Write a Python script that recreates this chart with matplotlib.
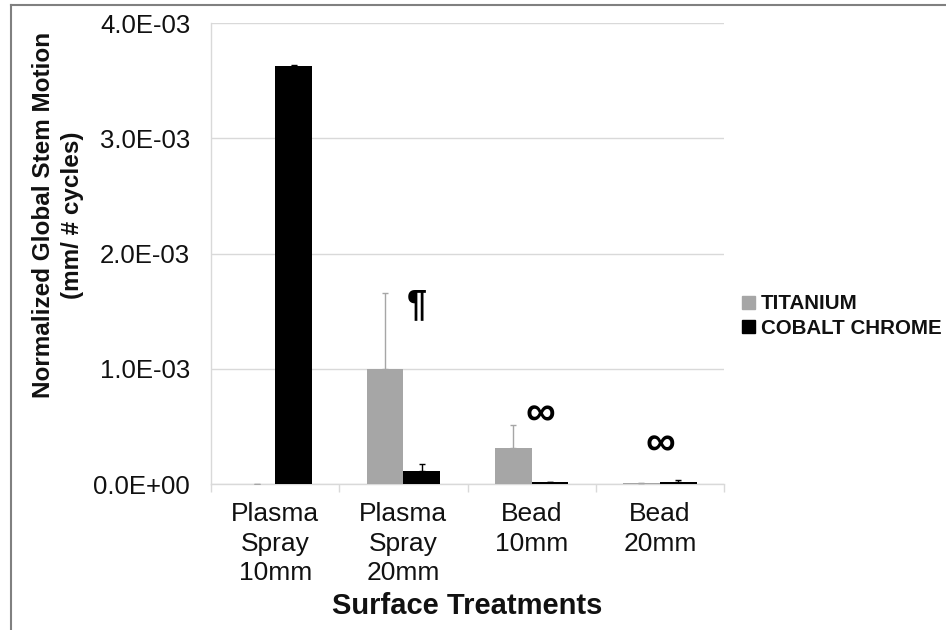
import matplotlib
matplotlib.use("Agg")
import matplotlib.pyplot as plt
from matplotlib.lines import Line2D
import numpy as np

plt.rcParams['font.family'] = ['Liberation Sans', 'DejaVu Sans']

# Data
categories = ["Plasma\nSpray\n10mm", "Plasma\nSpray\n20mm", "Bead\n10mm", "Bead\n20mm"]
series_names = ["TITANIUM", "COBALT CHROME"]
titanium = [0.0, 1.0e-3, 3.1e-4, 5e-6]
titanium_err = [0.0, 6.6e-4, 2.0e-4, 5e-6]
cobalt = [3.63e-3, 1.1e-4, 1.7e-5, 1.5e-5]
cobalt_err = [5e-6, 6.5e-5, 3e-6, 1.7e-5]
y_ticks = [0.0, 1.0e-3, 2.0e-3, 3.0e-3, 4.0e-3]
y_tick_labels = ["0.0E+00", "1.0E-03", "2.0E-03", "3.0E-03", "4.0E-03"]
# significance markers: (category index, symbol)
markers = [(1, "\u00b6"), (2, "\u221e"), (3, "\u221e")]

W, H = 946, 630
fig = plt.figure(figsize=(W / 100, H / 100), dpi=100)
ax = fig.add_axes([211 / W, 1 - 484 / H, (724 - 211) / W, (484 - 23) / H])

x = np.arange(len(categories))
bw = 37 / 129.0
ti_color = "#a6a6a6"
co_color = "#000000"
text_color = "#111111"

ax.bar(x - bw / 2, titanium, bw, color=ti_color, zorder=3)
ax.bar(x + bw / 2, cobalt, bw, color=co_color, zorder=3)
ax.errorbar(x - bw / 2, titanium, yerr=[np.zeros(len(x)), titanium_err],
            fmt="none", ecolor=ti_color, elinewidth=1, capsize=2, capthick=1, zorder=4)
ax.errorbar(x + bw / 2, cobalt, yerr=[np.zeros(len(x)), cobalt_err],
            fmt="none", ecolor=co_color, elinewidth=1, capsize=2, capthick=1, zorder=4)

# significance symbols
sym_offsets = {1: (bw / 2 - 0.04, 1.55e-3), 2: (0.07, 0.6e-3), 3: (0.0, 0.34e-3)}
for idx, sym in markers:
    dx, yy = sym_offsets[idx]
    fs = 26 if sym == "\u00b6" else 30
    ax.text(idx + dx, yy, sym, ha="center", va="center", fontsize=fs,
            fontweight="bold", color="black", zorder=5)

ax.set_xlim(-0.5, len(categories) - 0.5)
ax.set_ylim(0, 4.0e-3)
ax.set_yticks(y_ticks)
ax.set_yticklabels(y_tick_labels, fontsize=18.5, color=text_color)
ax.set_xticks(x)
ax.set_xticklabels(categories, fontsize=19, color=text_color, linespacing=1.3)
ax.tick_params(axis="x", length=0, pad=13)
ax.tick_params(axis="y", length=0, pad=15)

# category boundary ticks
ax.set_xticks(np.arange(len(categories) + 1) - 0.5, minor=True)
ax.tick_params(axis="x", which="minor", length=6, color="#d9d9d9", width=1)

ax.yaxis.grid(True, color="#d9d9d9", linewidth=1, zorder=0)
ax.set_axisbelow(True)
for s in ["top", "right"]:
    ax.spines[s].set_visible(False)
for s in ["left", "bottom"]:
    ax.spines[s].set_color("#d9d9d9")
    ax.spines[s].set_linewidth(1)

ax.set_xlabel("Surface Treatments", fontsize=21, fontweight="bold", labelpad=5,
              color=text_color)
fig.text(58 / W, 1 - 215 / H, "Normalized Global Stem Motion\n(mm/ # cycles)",
         rotation=90, ha="center", va="center", fontsize=17.5, fontweight="bold",
         linespacing=1.35, color=text_color)

handles = [plt.Rectangle((0, 0), 1, 1, color=ti_color),
           plt.Rectangle((0, 0), 1, 1, color=co_color)]
leg = fig.legend(handles, series_names, loc="center left",
                 bbox_to_anchor=(732 / W, 1 - 316 / H), frameon=False,
                 handlelength=0.6, handleheight=0.6, handletextpad=0.3,
                 labelspacing=0.25, borderpad=0,
                 prop={"size": 14.8, "weight": "bold"})
for t in leg.get_texts():
    t.set_color(text_color)

# outer frame (top and left edges)
fig.add_artist(Line2D([11 / W, 1.0], [1 - 5 / H, 1 - 5 / H], color="#808080", lw=1.5,
                      transform=fig.transFigure))
fig.add_artist(Line2D([11 / W, 11 / W], [1 - 5 / H, 0.0], color="#808080", lw=1.5,
                      transform=fig.transFigure))

fig.savefig("out.png", dpi=100)
